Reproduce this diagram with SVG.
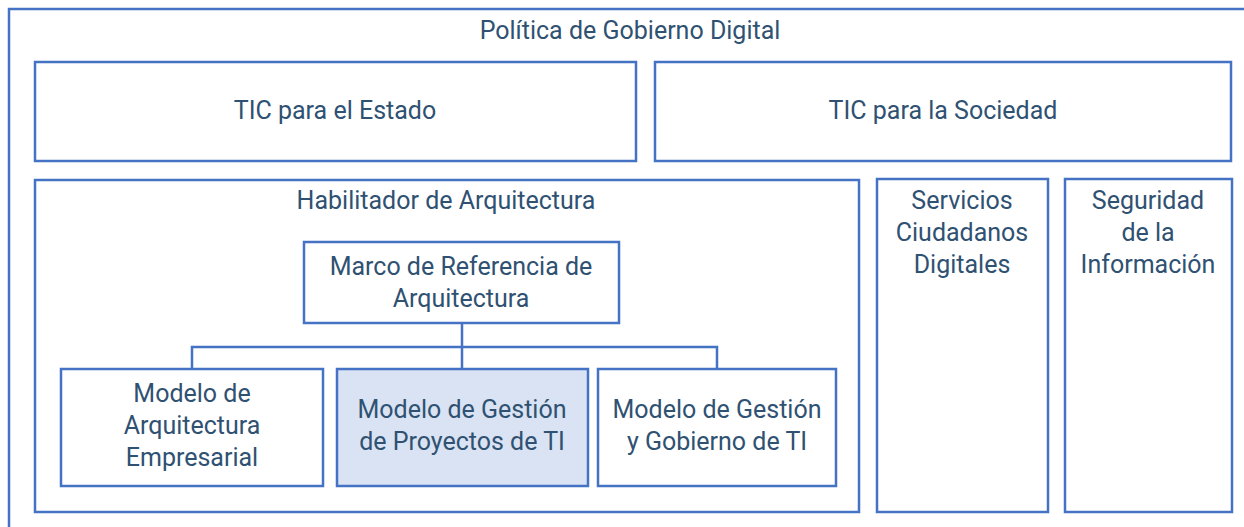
<svg xmlns="http://www.w3.org/2000/svg" width="1244" height="527" viewBox="0 0 1244 527">
<style>
.b{fill:#ffffff;stroke:#4472c4;stroke-width:2.5}
.h{fill:#dae3f3;stroke:#4472c4;stroke-width:2.5}
.c{fill:none;stroke:#4472c4;stroke-width:2.5}
text{font-family:Roboto,"Noto Sans",sans-serif;font-size:25px;fill:#2f5172;text-anchor:middle}
</style>
<rect width="1244" height="527" fill="#ffffff"/>
<g id="politica">
<rect class="b" x="9" y="9" width="1250" height="530"/>
<text x="630" y="39">Política de Gobierno Digital</text>
</g>
<g id="tic-estado">
<rect class="b" x="35" y="62" width="601" height="99"/>
<text x="335" y="119">TIC para el Estado</text>
</g>
<g id="tic-sociedad">
<rect class="b" x="655" y="62" width="576" height="99"/>
<text x="943" y="119">TIC para la Sociedad</text>
</g>
<g id="habilitador">
<rect class="b" x="35" y="180" width="824" height="332"/>
<text x="446" y="209">Habilitador de Arquitectura</text>
</g>
<g id="servicios">
<rect class="b" x="877" y="179" width="171" height="333"/>
<text x="962" y="209">Servicios</text>
<text x="962" y="241">Ciudadanos</text>
<text x="962" y="273">Digitales</text>
</g>
<g id="seguridad">
<rect class="b" x="1065" y="179" width="167" height="333"/>
<text x="1148" y="209">Seguridad</text>
<text x="1148" y="241">de la</text>
<text x="1148" y="273">Información</text>
</g>
<g id="connectors">
<path class="c" d="M462 323V369M192 369V347H717V369"/>
</g>
<g id="marco">
<rect class="b" x="304" y="242" width="315" height="81"/>
<text x="461" y="275">Marco de Referencia de</text>
<text x="461" y="307">Arquitectura</text>
</g>
<g id="modelo-arquitectura">
<rect class="b" x="61" y="369" width="262" height="117"/>
<text x="192" y="402">Modelo de</text>
<text x="192" y="434">Arquitectura</text>
<text x="192" y="466">Empresarial</text>
</g>
<g id="modelo-proyectos">
<rect class="h" x="337" y="369" width="251" height="117"/>
<text x="462" y="418">Modelo de Gestión</text>
<text x="462" y="450">de Proyectos de TI</text>
</g>
<g id="modelo-gobierno">
<rect class="b" x="598" y="369" width="238" height="117"/>
<text x="717" y="418">Modelo de Gestión</text>
<text x="717" y="450">y Gobierno de TI</text>
</g>
</svg>
